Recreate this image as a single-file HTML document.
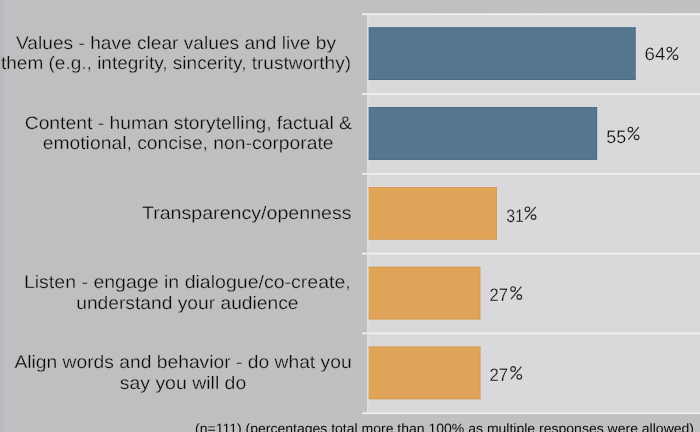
<!DOCTYPE html><html><head><meta charset="utf-8"><style>html,body{margin:0;padding:0;width:700px;height:432px;overflow:hidden;background:#bfbfc1}svg{display:block;will-change:transform}text{font-family:"Liberation Sans",sans-serif;text-rendering:geometricPrecision}</style></head><body>
<svg width="700" height="432" viewBox="0 0 700 432">
<defs><linearGradient id="lg" x1="0" x2="1" y1="0" y2="0"><stop offset="0" stop-color="#b7b8bc"/><stop offset="0.008" stop-color="#bfbfc1"/><stop offset="1" stop-color="#c0c0c1"/></linearGradient><g id="pct" fill="none" stroke="#2a2a2a" stroke-width="1.15"><circle cx="3.1" cy="2.7" r="2.3"/><circle cx="9.3" cy="10.5" r="2.3"/><line x1="1.0" y1="12.8" x2="11.4" y2="0.3"/></g></defs>
<rect x="0" y="0" width="700" height="432" fill="url(#lg)"/>
<rect x="367" y="14" width="333" height="398" fill="#d9d9db"/>
<rect x="362" y="13.30" width="338" height="1.8" fill="#f1f1f2"/>
<rect x="362" y="93.10" width="338" height="1.8" fill="#f1f1f2"/>
<rect x="362" y="172.90" width="338" height="1.8" fill="#f1f1f2"/>
<rect x="362" y="252.70" width="338" height="1.8" fill="#f1f1f2"/>
<rect x="362" y="332.50" width="338" height="1.8" fill="#f1f1f2"/>
<rect x="362" y="412.30" width="338" height="1.8" fill="#f1f1f2"/>
<rect x="367" y="13.3" width="1.6" height="400" fill="#e0e0e2"/>
<rect x="368.6" y="27.40" width="266.90" height="52.6" fill="#54778f"/>
<rect x="368.6" y="27.40" width="266.90" height="0.8" fill="#4a6b82"/>
<rect x="368.6" y="79.10" width="266.90" height="0.9" fill="#4a6b82"/>
<rect x="634.70" y="27.40" width="0.8" height="52.6" fill="#4a6b82"/>
<rect x="368.6" y="107.20" width="228.50" height="52.6" fill="#54778f"/>
<rect x="368.6" y="107.20" width="228.50" height="0.8" fill="#4a6b82"/>
<rect x="368.6" y="158.90" width="228.50" height="0.9" fill="#4a6b82"/>
<rect x="596.30" y="107.20" width="0.8" height="52.6" fill="#4a6b82"/>
<rect x="368.6" y="187.00" width="128.40" height="52.6" fill="#dfa457"/>
<rect x="368.6" y="187.00" width="128.40" height="0.8" fill="#d39b55"/>
<rect x="368.6" y="238.70" width="128.40" height="0.9" fill="#d39b55"/>
<rect x="496.20" y="187.00" width="0.8" height="52.6" fill="#d39b55"/>
<rect x="368.6" y="266.80" width="111.70" height="52.6" fill="#dfa457"/>
<rect x="368.6" y="266.80" width="111.70" height="0.8" fill="#d39b55"/>
<rect x="368.6" y="318.50" width="111.70" height="0.9" fill="#d39b55"/>
<rect x="479.50" y="266.80" width="0.8" height="52.6" fill="#d39b55"/>
<rect x="368.6" y="346.60" width="111.80" height="52.6" fill="#dfa457"/>
<rect x="368.6" y="346.60" width="111.80" height="0.8" fill="#d39b55"/>
<rect x="368.6" y="398.30" width="111.80" height="0.9" fill="#d39b55"/>
<rect x="479.60" y="346.60" width="0.8" height="52.6" fill="#d39b55"/>
<text x="16.0" y="48.5" font-size="18" fill="#0a0a0a" stroke="#bfbfc1" stroke-width="0.3" textLength="320.0" lengthAdjust="spacingAndGlyphs">Values - have clear values and live by</text>
<text x="1.0" y="69.3" font-size="18" fill="#0a0a0a" stroke="#bfbfc1" stroke-width="0.3" textLength="350.0" lengthAdjust="spacingAndGlyphs">them (e.g., integrity, sincerity, trustworthy)</text>
<text x="24.7" y="128.5" font-size="18" fill="#0a0a0a" stroke="#bfbfc1" stroke-width="0.3" textLength="327.3" lengthAdjust="spacingAndGlyphs">Content - human storytelling, factual &amp;</text>
<text x="42.7" y="149.3" font-size="18" fill="#0a0a0a" stroke="#bfbfc1" stroke-width="0.3" textLength="290.9" lengthAdjust="spacingAndGlyphs">emotional, concise, non-corporate</text>
<text x="141.9" y="218.6" font-size="18" fill="#0a0a0a" stroke="#bfbfc1" stroke-width="0.3" textLength="209.7" lengthAdjust="spacingAndGlyphs">Transparency/openness</text>
<text x="23.9" y="288.2" font-size="18" fill="#0a0a0a" stroke="#bfbfc1" stroke-width="0.3" textLength="326.9" lengthAdjust="spacingAndGlyphs">Listen - engage in dialogue/co-create,</text>
<text x="76.2" y="309.3" font-size="18" fill="#0a0a0a" stroke="#bfbfc1" stroke-width="0.3" textLength="222.3" lengthAdjust="spacingAndGlyphs">understand your audience</text>
<text x="14.4" y="368.2" font-size="18" fill="#0a0a0a" stroke="#bfbfc1" stroke-width="0.3" textLength="337.2" lengthAdjust="spacingAndGlyphs">Align words and behavior - do what you</text>
<text x="119.7" y="388.6" font-size="18" fill="#0a0a0a" stroke="#bfbfc1" stroke-width="0.3" textLength="126.6" lengthAdjust="spacingAndGlyphs">say you will do</text>
<text x="644.60" y="60.30" font-size="18" fill="#0a0a0a" stroke="#d9d9db" stroke-width="0.3" textLength="20.80" lengthAdjust="spacingAndGlyphs">64</text>
<use href="#pct" x="666.20" y="46.80"/>
<text x="606.30" y="142.60" font-size="18" fill="#0a0a0a" stroke="#d9d9db" stroke-width="0.3" textLength="19.90" lengthAdjust="spacingAndGlyphs">55</text>
<use href="#pct" x="627.30" y="126.80"/>
<text x="506.20" y="221.50" font-size="18" fill="#0a0a0a" stroke="#d9d9db" stroke-width="0.3" textLength="17.60" lengthAdjust="spacingAndGlyphs">31</text>
<use href="#pct" x="524.30" y="206.60"/>
<text x="489.60" y="300.80" font-size="18" fill="#0a0a0a" stroke="#d9d9db" stroke-width="0.3" textLength="18.40" lengthAdjust="spacingAndGlyphs">27</text>
<use href="#pct" x="510.00" y="286.40"/>
<text x="489.40" y="380.60" font-size="18" fill="#0a0a0a" stroke="#d9d9db" stroke-width="0.3" textLength="18.60" lengthAdjust="spacingAndGlyphs">27</text>
<use href="#pct" x="510.00" y="366.30"/>
<text x="195" y="432.5" font-size="13.5" fill="#0a0a0a" textLength="499" lengthAdjust="spacingAndGlyphs">(n=111) (percentages total more than 100% as multiple responses were allowed)</text>
</svg></body></html>
